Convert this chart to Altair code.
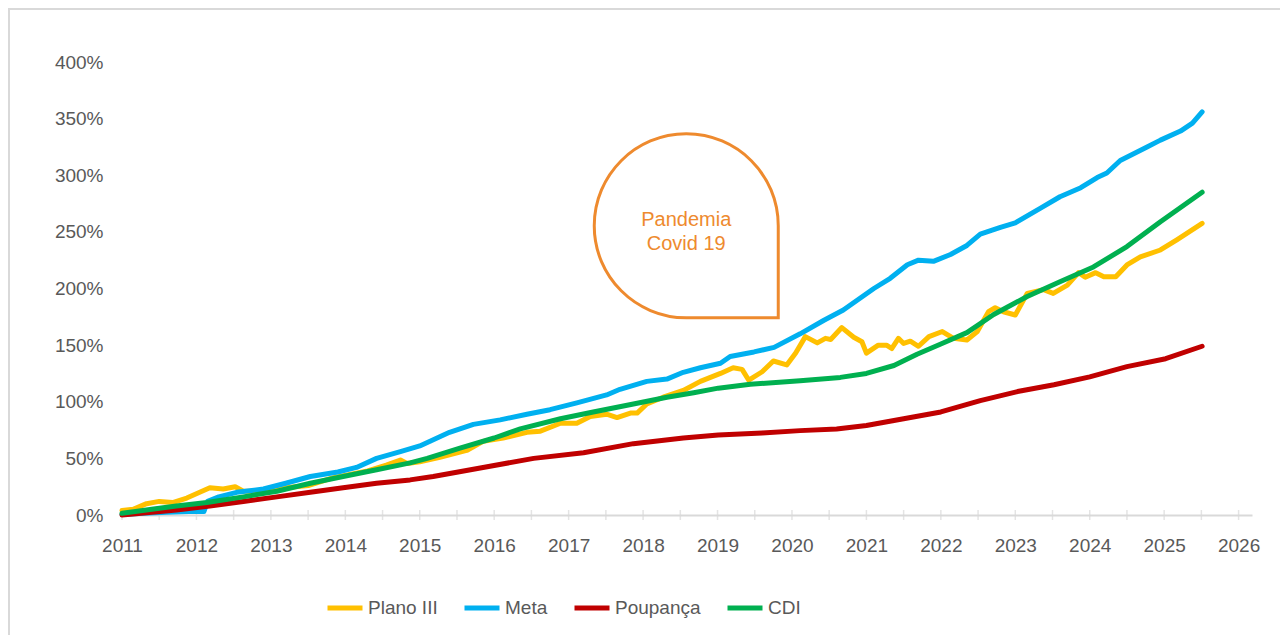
import altair as alt
import pandas as pd

# ---- data (year as decimal, value in %) ----
plano_x = [2011.0, 2011.15, 2011.33, 2011.5, 2011.68, 2011.87, 2012.18, 2012.36, 2012.52, 2012.63,
           2012.9, 2013.2, 2013.5, 2013.84, 2014.3, 2014.55, 2014.74, 2014.83, 2015.0, 2015.27,
           2015.63, 2015.85, 2016.12, 2016.44, 2016.62, 2016.89, 2017.11, 2017.29, 2017.51, 2017.65,
           2017.83, 2017.92, 2018.05, 2018.27, 2018.54, 2018.77, 2019.04, 2019.21, 2019.33, 2019.42,
           2019.6, 2019.75, 2019.93, 2020.05, 2020.18, 2020.34, 2020.45, 2020.52, 2020.67, 2020.83,
           2020.94, 2021.0, 2021.16, 2021.27, 2021.34, 2021.43, 2021.5, 2021.59, 2021.7, 2021.84,
           2022.02, 2022.17, 2022.35, 2022.49, 2022.64, 2022.73, 2022.84, 2023.0, 2023.16, 2023.38,
           2023.51, 2023.7, 2023.85, 2023.94, 2024.08, 2024.19, 2024.35, 2024.5, 2024.68, 2024.95,
           2025.17, 2025.51]
plano_y = [4, 5, 10, 12, 11, 15, 24, 23, 25, 21,
           21, 24, 26, 33, 39, 44, 48.5, 45.5, 47, 51,
           57, 65, 68, 73, 74, 81, 81, 87, 89, 86,
           90, 90, 98, 104, 110, 118, 125, 130, 128.6, 119,
           126.5, 136, 132.5, 143, 157.5, 152, 156, 155, 165.5, 157,
           153, 143, 150, 150, 147, 156, 151.5, 153.5, 149, 157.5,
           162, 156, 154.5, 162, 179.5, 183, 179.5, 176.6, 195.7, 199,
           195.7, 203, 214, 210, 214, 210.4, 210.4, 220.8, 228, 234,
           243, 257.5]

meta_x = [2011.0, 2011.3, 2011.6, 2011.9, 2012.1, 2012.15, 2012.3, 2012.54, 2012.9, 2013.2,
          2013.53, 2013.9, 2014.15, 2014.42, 2014.74, 2015.0, 2015.4, 2015.72, 2016.08, 2016.44,
          2016.75, 2017.11, 2017.51, 2017.69, 2018.05, 2018.32, 2018.54, 2018.77, 2019.04, 2019.17,
          2019.49, 2019.76, 2020.11, 2020.43, 2020.69, 2021.1, 2021.32, 2021.55, 2021.7, 2021.9,
          2022.13, 2022.35, 2022.53, 2022.8, 2023.0, 2023.34, 2023.6, 2023.88, 2024.1, 2024.23,
          2024.41, 2024.77, 2024.95, 2025.22, 2025.38, 2025.51]
meta_y = [0.5, 1.5, 2.5, 3, 3, 12, 16, 20, 23, 28,
          34, 38, 42, 50, 56, 61, 73, 80, 84, 89,
          93, 99, 106, 111, 118, 120, 126, 130, 134, 140,
          144, 148, 160, 172, 181, 200, 209, 221, 225, 224,
          230, 238, 248, 254, 258, 271, 281, 289, 298, 302,
          313, 325, 331, 339, 346, 356]

poup_x = [2011.0, 2011.73, 2012.18, 2012.63, 2013.08, 2013.53, 2013.97, 2014.42, 2014.87, 2015.18,
          2015.85, 2016.53, 2017.2, 2017.87, 2018.54, 2019.01, 2019.6, 2020.11, 2020.6, 2021.0,
          2021.5, 2022.0, 2022.53, 2023.03, 2023.52, 2024.0, 2024.5, 2025.02, 2025.51]
poup_y = [0, 4.4, 8, 12, 16, 20, 24, 28, 31, 34,
          42, 50, 55, 63, 68, 70.6, 72.5, 74.5, 76, 79,
          85, 91, 101, 109, 115, 122, 131, 138, 149]

cdi_x = [2011.0, 2011.4, 2011.73, 2012.14, 2012.63, 2013.08, 2013.53, 2013.97, 2014.42, 2014.87,
         2015.1, 2015.54, 2016.0, 2016.35, 2016.89, 2017.33, 2017.87, 2018.32, 2018.68, 2019.01,
         2019.44, 2020.11, 2020.65, 2021.0, 2021.37, 2021.68, 2022.0, 2022.35, 2022.71, 2023.16,
         2023.6, 2024.05, 2024.5, 2024.95, 2025.51]
cdi_y = [1.5, 5, 8, 11, 16, 21, 28, 34, 40, 46,
         50, 59, 68, 76, 85, 91, 98, 104, 108, 112,
         115.5, 118.5, 121.5, 125, 132, 142, 151, 161, 177, 193,
         206, 219, 237, 259, 285]

series_names = ["Plano III", "Meta", "Poupança", "CDI"]
series_colors = ["#FFC000", "#00B0F0", "#C00000", "#00B050"]

year_labels = list(range(2011, 2027))
tick_positions = [2011 + 0.5 * i for i in range(31)]
y_labels = list(range(0, 401, 50))

note_lines = ["Pandemia", "Covid 19"]
note_x = [2018.58]
note_y_bubble = [255.4]
note_y_lines = [260.5, 239.3]

# ---- tables ----
frames = []
for name, xs, ys in [("Plano III", plano_x, plano_y), ("Meta", meta_x, meta_y),
                     ("Poupança", poup_x, poup_y), ("CDI", cdi_x, cdi_y)]:
    frames.append(pd.DataFrame({"ano": xs, "valor": ys, "serie": name}))
lines_df = pd.concat(frames, ignore_index=True)
ticks_df = pd.DataFrame({"ano": tick_positions, "valor": [0] * len(tick_positions)})
bubble_df = pd.DataFrame({"ano": note_x, "vb": note_y_bubble})
note_df = pd.DataFrame({"ano": note_x * len(note_lines), "vt": note_y_lines, "txt": note_lines})
border_df = pd.DataFrame({"k": [0]})

X_DOMAIN = [2011, 2026.18]
Y_DOMAIN = [0, 400]
FONT = "Liberation Sans"
GREY_TXT = "#595959"
ORANGE = "#EE8A2E"

x_scale = alt.Scale(domain=X_DOMAIN, nice=False, zero=False)
y_scale = alt.Scale(domain=Y_DOMAIN, nice=False)

x_axis = alt.Axis(values=year_labels, format="d", grid=False, ticks=False, tickSize=0,
                  domainColor="#D9D9D9", domainWidth=2, labelColor=GREY_TXT,
                  labelFont=FONT, labelFontSize=19, labelPadding=21, labelFlush=False,
                  title=None)
y_axis = alt.Axis(values=y_labels, labelExpr="datum.value + '%'", grid=False, ticks=False,
                  tickSize=0, domain=False, labelColor=GREY_TXT, labelFont=FONT,
                  labelFontSize=19, labelPadding=19, title=None)

border = alt.Chart(border_df).mark_rect(filled=False, stroke="#D9D9D9", strokeWidth=2).encode(
    x=alt.value(-113), x2=alt.value(1172), y=alt.value(-53), y2=alt.value(590)
)

ticks = alt.Chart(ticks_df).mark_tick(orient="vertical", size=10, thickness=1.5,
                                      color="#D9D9D9").encode(
    x=alt.X("ano:Q", scale=x_scale, axis=x_axis),
    y=alt.Y("valor:Q", scale=y_scale, axis=y_axis),
)

lines = alt.Chart(lines_df).mark_line(strokeWidth=5, strokeCap="round",
                                      strokeJoin="round").encode(
    x=alt.X("ano:Q", scale=x_scale, axis=x_axis),
    y=alt.Y("valor:Q", scale=y_scale, axis=y_axis),
    color=alt.Color("serie:N", scale=alt.Scale(domain=series_names, range=series_colors),
                    sort=series_names,
                    legend=alt.Legend(title=None, orient="none", legendX=203, legendY=526,
                                      direction="horizontal", symbolType="stroke",
                                      symbolSize=1225, symbolStrokeWidth=5,
                                      labelFont=FONT, labelFontSize=19, labelColor=GREY_TXT,
                                      labelOffset=3, columnPadding=16, padding=0)),
    order=alt.Order("ano:Q"),
)

bubble_path = "M -1 0 A 1 1 0 0 1 1 0 L 1 1 L 0 1 A 1 1 0 0 1 -1 0 Z"
bubble = alt.Chart(bubble_df).mark_point(shape=bubble_path, size=33856, filled=False,
                                         stroke=ORANGE, strokeWidth=3, opacity=1).encode(
    x=alt.X("ano:Q", scale=x_scale),
    y=alt.Y("vb:Q", scale=y_scale),
)

note = alt.Chart(note_df).mark_text(font=FONT, fontSize=20, color=ORANGE,
                                    align="center", baseline="middle").encode(
    x=alt.X("ano:Q", scale=x_scale),
    y=alt.Y("vt:Q", scale=y_scale),
    text="txt:N",
)

chart = alt.layer(border, ticks, lines, bubble, note).properties(
    width=1130, height=453,
    autosize=alt.AutoSizeParams(type="none"),
    padding={"left": 114, "top": 54, "right": 28, "bottom": 120},
    background="white",
).configure_view(strokeWidth=0)

chart.save("out.html", embed_options={"renderer": "svg", "actions": False})
